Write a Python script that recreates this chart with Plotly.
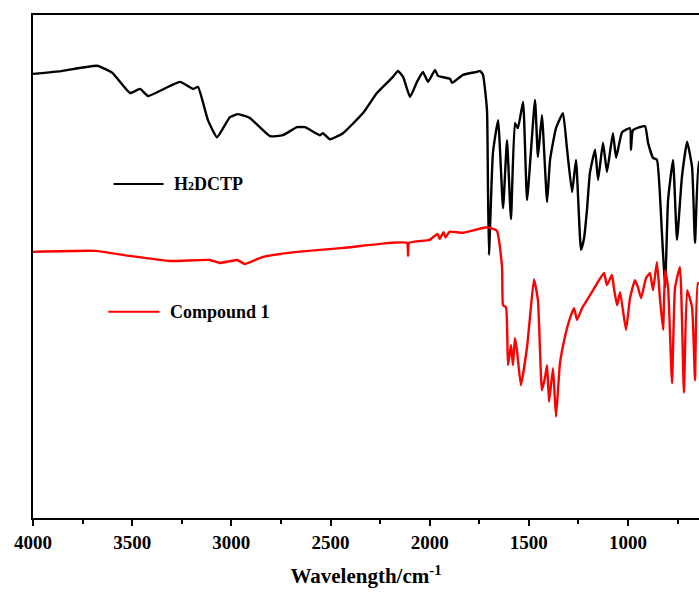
import plotly.graph_objects as go

# ---- data (wavenumber in cm^-1, transmittance in arbitrary %) ----
h2dctp_w = [4000, 3850, 3677, 3600, 3511, 3460, 3420, 3259, 3193, 3168, 3118, 3072, 3007, 2966, 2906,
            2805, 2740, 2669, 2629, 2553, 2538, 2503, 2437, 2336, 2266, 2185, 2160, 2134,
            2099, 2064, 2034, 2008, 1973, 1958, 1897, 1887, 1832, 1761, 1746, 1731, 1711,
            1706, 1701, 1681, 1655, 1630, 1610, 1590, 1570, 1555, 1529, 1509, 1469, 1454,
            1434, 1408, 1393, 1363, 1328, 1308, 1282, 1262, 1237, 1222, 1207, 1192, 1166,
            1151, 1126, 1106, 1076, 1060, 1030, 990, 985, 975, 914, 899, 874, 854, 829,
            813, 798, 773, 753, 728, 702, 677, 662, 642, 620]
h2dctp_t = [88.3, 88.9, 89.9, 88.5, 84.5, 85.3, 83.9, 86.7, 85.3, 85.7, 79.1, 75.7, 79.7, 80.3, 79.5,
            75.9, 76.1, 77.7, 77.7, 76.1, 76.5, 75.3, 76.5, 80.5, 84.5, 87.7, 88.9, 87.7,
            83.7, 86.7, 88.7, 86.7, 89.1, 87.9, 87.3, 86.5, 88.1, 88.7, 88.9, 88.1, 81.1,
            65.8, 52.3, 72.6, 79.1, 61.6, 75.1, 59.4, 78.5, 77.5, 82.7, 63.2, 83.1, 71.8,
            80.1, 62.8, 71.2, 77.5, 80.5, 73.6, 64.8, 71.2, 53.3, 55.5, 61.2, 68.6, 73.2,
            67.2, 74.6, 68.8, 76.5, 71.6, 76.7, 77.5, 73.2, 77.1, 77.9, 74.6, 71.6, 71.2, 56.7,
            45.9, 63.2, 71.2, 55.3, 67.8, 74.8, 69.8, 54.7, 70.8, 70.0]

cmp1_w = [4000, 3687, 3511, 3309, 3108, 3057, 2971, 2931, 2840, 2669, 2437, 2200, 2114,
          2109, 2104, 2000, 1960, 1950, 1930, 1920, 1900, 1832, 1711, 1661, 1635, 1630,
          1615, 1605, 1590, 1580, 1570, 1560, 1540, 1509, 1494, 1474, 1454, 1434, 1418,
          1408, 1398, 1378, 1363, 1343, 1318, 1292, 1272, 1257, 1232, 1207, 1176, 1121,
          1106, 1081, 1071, 1055, 1040, 1010, 990, 965, 950, 934, 909, 889, 874, 854,
          839, 823, 813, 798, 778, 763, 738, 718, 702, 677, 662, 647, 620]
cmp1_t = [52.9, 53.1, 52.1, 51.1, 51.3, 50.7, 51.3, 50.5, 51.9, 52.9, 53.7, 54.7, 54.7,
          52.1, 54.7, 55.3, 56.5, 55.5, 56.8, 55.8, 56.9, 56.7, 57.8, 57.1, 49.9, 42.3,
          41.9, 30.4, 34.4, 30.4, 35.8, 33.4, 26.4, 34.0, 40.0, 47.5, 43.3, 25.4, 28.0,
          30.4, 23.1, 29.8, 20.1, 30.8, 36.0, 39.8, 41.7, 39.4, 41.7, 43.3, 45.3, 48.7,
          46.3, 48.3, 45.7, 42.3, 44.9, 37.4, 43.7, 47.3, 45.9, 43.7, 47.7, 48.7, 45.3, 50.9,
          43.7, 37.4, 49.3, 45.9, 26.8, 45.7, 49.9, 24.9, 45.3, 41.9, 27.4, 46.7, 46.0]

x_ticks = [4000, 3500, 3000, 2500, 2000, 1500, 1000]
names = ["H<span style='font-size:12px'>2</span>DCTP", "Compound 1"]
colors = ["#000000", "#ff0000"]

FONT = "Liberation Serif, Times New Roman, serif"

fig = go.Figure()
fig.add_trace(go.Scatter(x=h2dctp_w, y=h2dctp_t, mode="lines", name="H2DCTP",
                         line=dict(color=colors[0], width=2.4, shape="spline", smoothing=0.4)))
fig.add_trace(go.Scatter(x=cmp1_w, y=cmp1_t, mode="lines", name=names[1],
                         line=dict(color=colors[1], width=2.4, shape="spline", smoothing=0.4)))

# legend drawn manually (entries are far apart)
leg = [(0.121, 0.664, 0.196), (0.113, 0.410, 0.190)]
for (x0, y, x1), nm, c in zip(leg, names, colors):
    fig.add_shape(type="line", xref="paper", yref="paper", x0=x0, x1=x1, y0=y, y1=y,
                  line=dict(color=c, width=2))
    fig.add_annotation(xref="paper", yref="paper", x=x1 + 0.013, y=y, text="<b>%s</b>" % nm,
                       showarrow=False, xanchor="left", yanchor="middle",
                       font=dict(family=FONT, size=18, color="black"))

fig.update_layout(
    width=699, height=594,
    margin=dict(l=33, r=0, t=15, b=76),
    plot_bgcolor="white", paper_bgcolor="white",
    showlegend=False,
    font=dict(family=FONT, color="black"),
)
fig.update_xaxes(
    range=[4000, 642], tickvals=x_ticks, ticktext=["<b>%d</b>" % v for v in x_ticks],
    tickfont=dict(family=FONT, size=19, color="black"),
    ticks="outside", ticklen=6, tickwidth=2, tickcolor="black",
    minor=dict(ticks="outside", ticklen=4, tickwidth=2, tickcolor="black",
               dtick=250, tick0=0, showgrid=False),
    showline=True, linewidth=2, linecolor="black", mirror=True,
    showgrid=False, zeroline=False,
    title=dict(text="<b>Wavelength/cm<sup>-1</sup></b>",
               font=dict(family=FONT, size=21, color="black"), standoff=17),
)
fig.update_yaxes(
    range=[0, 100], showticklabels=False, ticks="",
    showline=True, linewidth=2, linecolor="black", mirror=False,
    showgrid=False, zeroline=False,
)

fig.write_html("out.html")
